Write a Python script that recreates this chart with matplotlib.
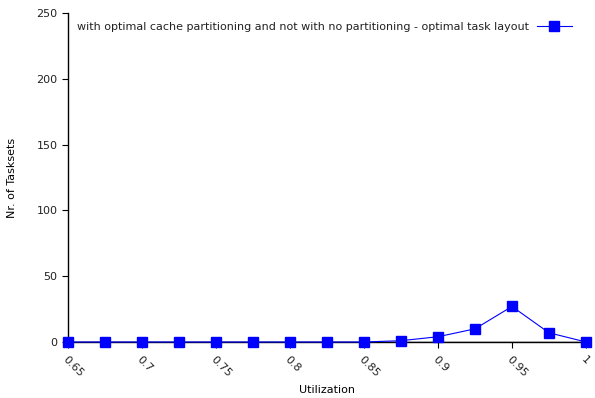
import numpy as np
import matplotlib
matplotlib.use('Agg')
import matplotlib.pyplot as plt

# Datos
utilization = [0.65, 0.675, 0.7, 0.725, 0.75, 0.775, 0.8, 0.825, 0.85,
               0.875, 0.9, 0.925, 0.95, 0.975, 1.0]
tasksets = [0, 0, 0, 0, 0, 0, 0, 0, 0, 1, 4, 10, 27, 7, 0]
xticks = [0.65, 0.7, 0.75, 0.8, 0.85, 0.9, 0.95, 1.0]
xtick_labels = ['0.65', '0.7', '0.75', '0.8', '0.85', '0.9', '0.95', '1']
label = 'with optimal cache partitioning and not with no partitioning - optimal task layout'

plt.rcParams['font.size'] = 8
plt.rcParams['text.color'] = '#222222'

fig = plt.figure(figsize=(5.95, 3.98), dpi=100)
ax = fig.add_axes([68 / 595, 1 - 342 / 398, (586 - 68) / 595, (342 - 13) / 398])

ax.plot(utilization, tasksets, color='#0000ff', lw=0.8, marker='s', ms=7,
        markeredgecolor='#0000ff', clip_on=False, zorder=3, label=label)
ax.axhline(0, color='black', lw=1, zorder=2)

ax.set_xlim(0.65, 1.0)
ax.set_ylim(0, 250)
ax.set_yticks([0, 50, 100, 150, 200, 250])
ax.set_xticks(xticks)
ax.set_xticklabels(xtick_labels, rotation=-45, ha='left', va='top',
                   rotation_mode='anchor')
ax.tick_params(length=4, width=0.8, color='black', labelcolor='#222222')
ax.tick_params(axis='x', pad=5)

for s in ['top', 'right']:
    ax.spines[s].set_visible(False)
ax.spines['left'].set_linewidth(1)
ax.spines['bottom'].set_linewidth(1)

ax.set_xlabel('Utilization', labelpad=4)
ax.set_ylabel('Nr. of Tasksets', labelpad=14)

ax.legend(loc='upper left', frameon=False, markerfirst=False,
          bbox_to_anchor=(0.0, 1.0), handlelength=3.2, handletextpad=0.7,
          borderaxespad=0.4)

fig.savefig('out.png', dpi=100)
